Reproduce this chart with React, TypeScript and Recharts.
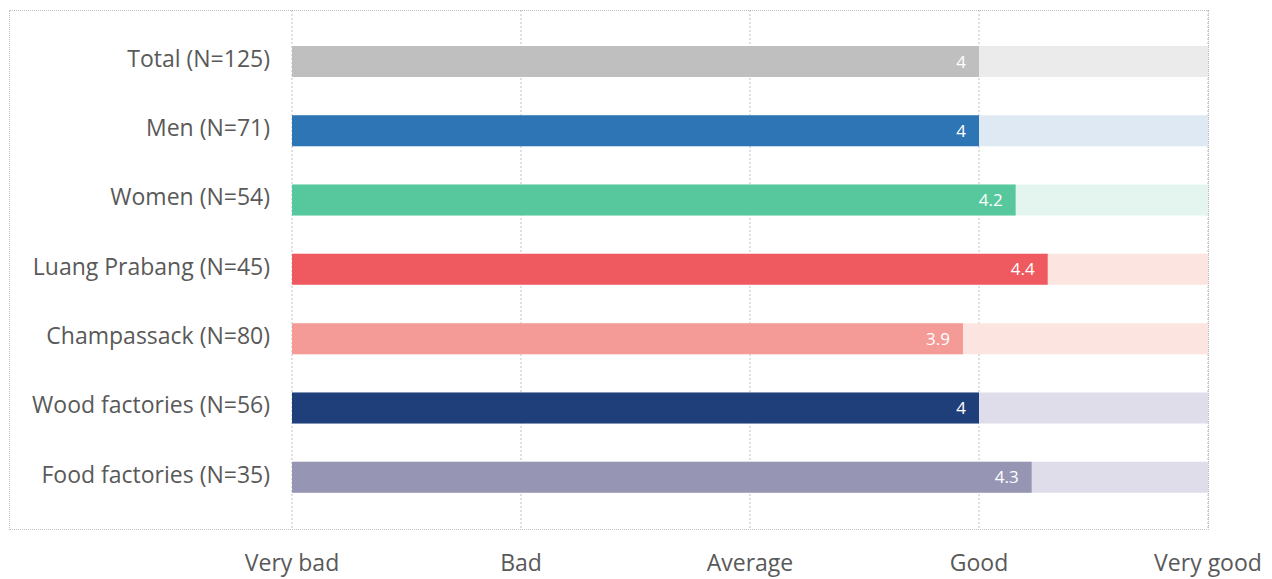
import { BarChart, Bar, XAxis, YAxis, CartesianGrid, Cell, LabelList } from 'recharts';

const groups = [
  'Total (N=125)',
  'Men (N=71)',
  'Women (N=54)',
  'Luang Prabang (N=45)',
  'Champassack (N=80)',
  'Wood factories (N=56)',
  'Food factories (N=35)',
];
const scores = [4.0, 4.0, 4.16, 4.3, 3.93, 4.0, 4.23];
const scoreLabels = ['4', '4', '4.2', '4.4', '3.9', '4', '4.3'];
const barColors = ['#BFBFBF', '#2E75B6', '#57C79D', '#EE5A5F', '#F49B97', '#1F3F7A', '#9696B4'];
const trackColors = ['#EBEBEB', '#DFE9F4', '#E3F5EE', '#FCE5E1', '#FCE5E1', '#DFDDE9', '#DFDDE9'];
const scaleTicks = [1, 2, 3, 4, 5];
const scaleNames = ['Very bad', 'Bad', 'Average', 'Good', 'Very good'];

const rows = groups.map((g, i) => ({ name: g, score: scores[i], label: scoreLabels[i], full: 5 }));

export default function App() {
  return (
    <div style={{ position: 'absolute', left: 0, top: 0, width: 1272, height: 579, fontFamily: '"Open Sans", sans-serif' }}>
      <div style={{ position: 'absolute', left: 9, top: 10, width: 1200, height: 520, border: '1px dotted #BFBFBF', boxSizing: 'border-box' }} />
      <BarChart
        width={1272}
        height={579}
        data={rows}
        layout="vertical"
        margin={{ top: 10, right: 64, bottom: 0, left: 0 }}
        barSize={31}
        barGap={-31}
      >
        <CartesianGrid horizontal={false} stroke="#BFBFBF" strokeDasharray="2 2" />
        <XAxis
          type="number"
          domain={[1, 5]}
          ticks={scaleTicks}
          tickFormatter={(v: number) => scaleNames[v - 1]}
          axisLine={false}
          tickLine={false}
          tickSize={0}
          tickMargin={26}
          height={50}
          tick={{ fontSize: 23, fill: '#595959' }}
          interval={0}
        />
        <YAxis
          type="category"
          dataKey="name"
          width={292}
          axisLine={false}
          tickLine={false}
          tickSize={0}
          tickMargin={22}
          padding={{ top: 17, bottom: 17 }}
          tick={{ fontSize: 23, fill: '#595959', dy: -3 }}
          interval={0}
        />
        <Bar dataKey="full" isAnimationActive={false}>
          {rows.map((r, i) => (
            <Cell key={r.name} fill={trackColors[i]} />
          ))}
        </Bar>
        <Bar dataKey="score" isAnimationActive={false}>
          {rows.map((r, i) => (
            <Cell key={r.name} fill={barColors[i]} />
          ))}
          <LabelList dataKey="label" position="insideRight" offset={13} fill="#FFFFFF" fontSize={17} />
        </Bar>
      </BarChart>
    </div>
  );
}
